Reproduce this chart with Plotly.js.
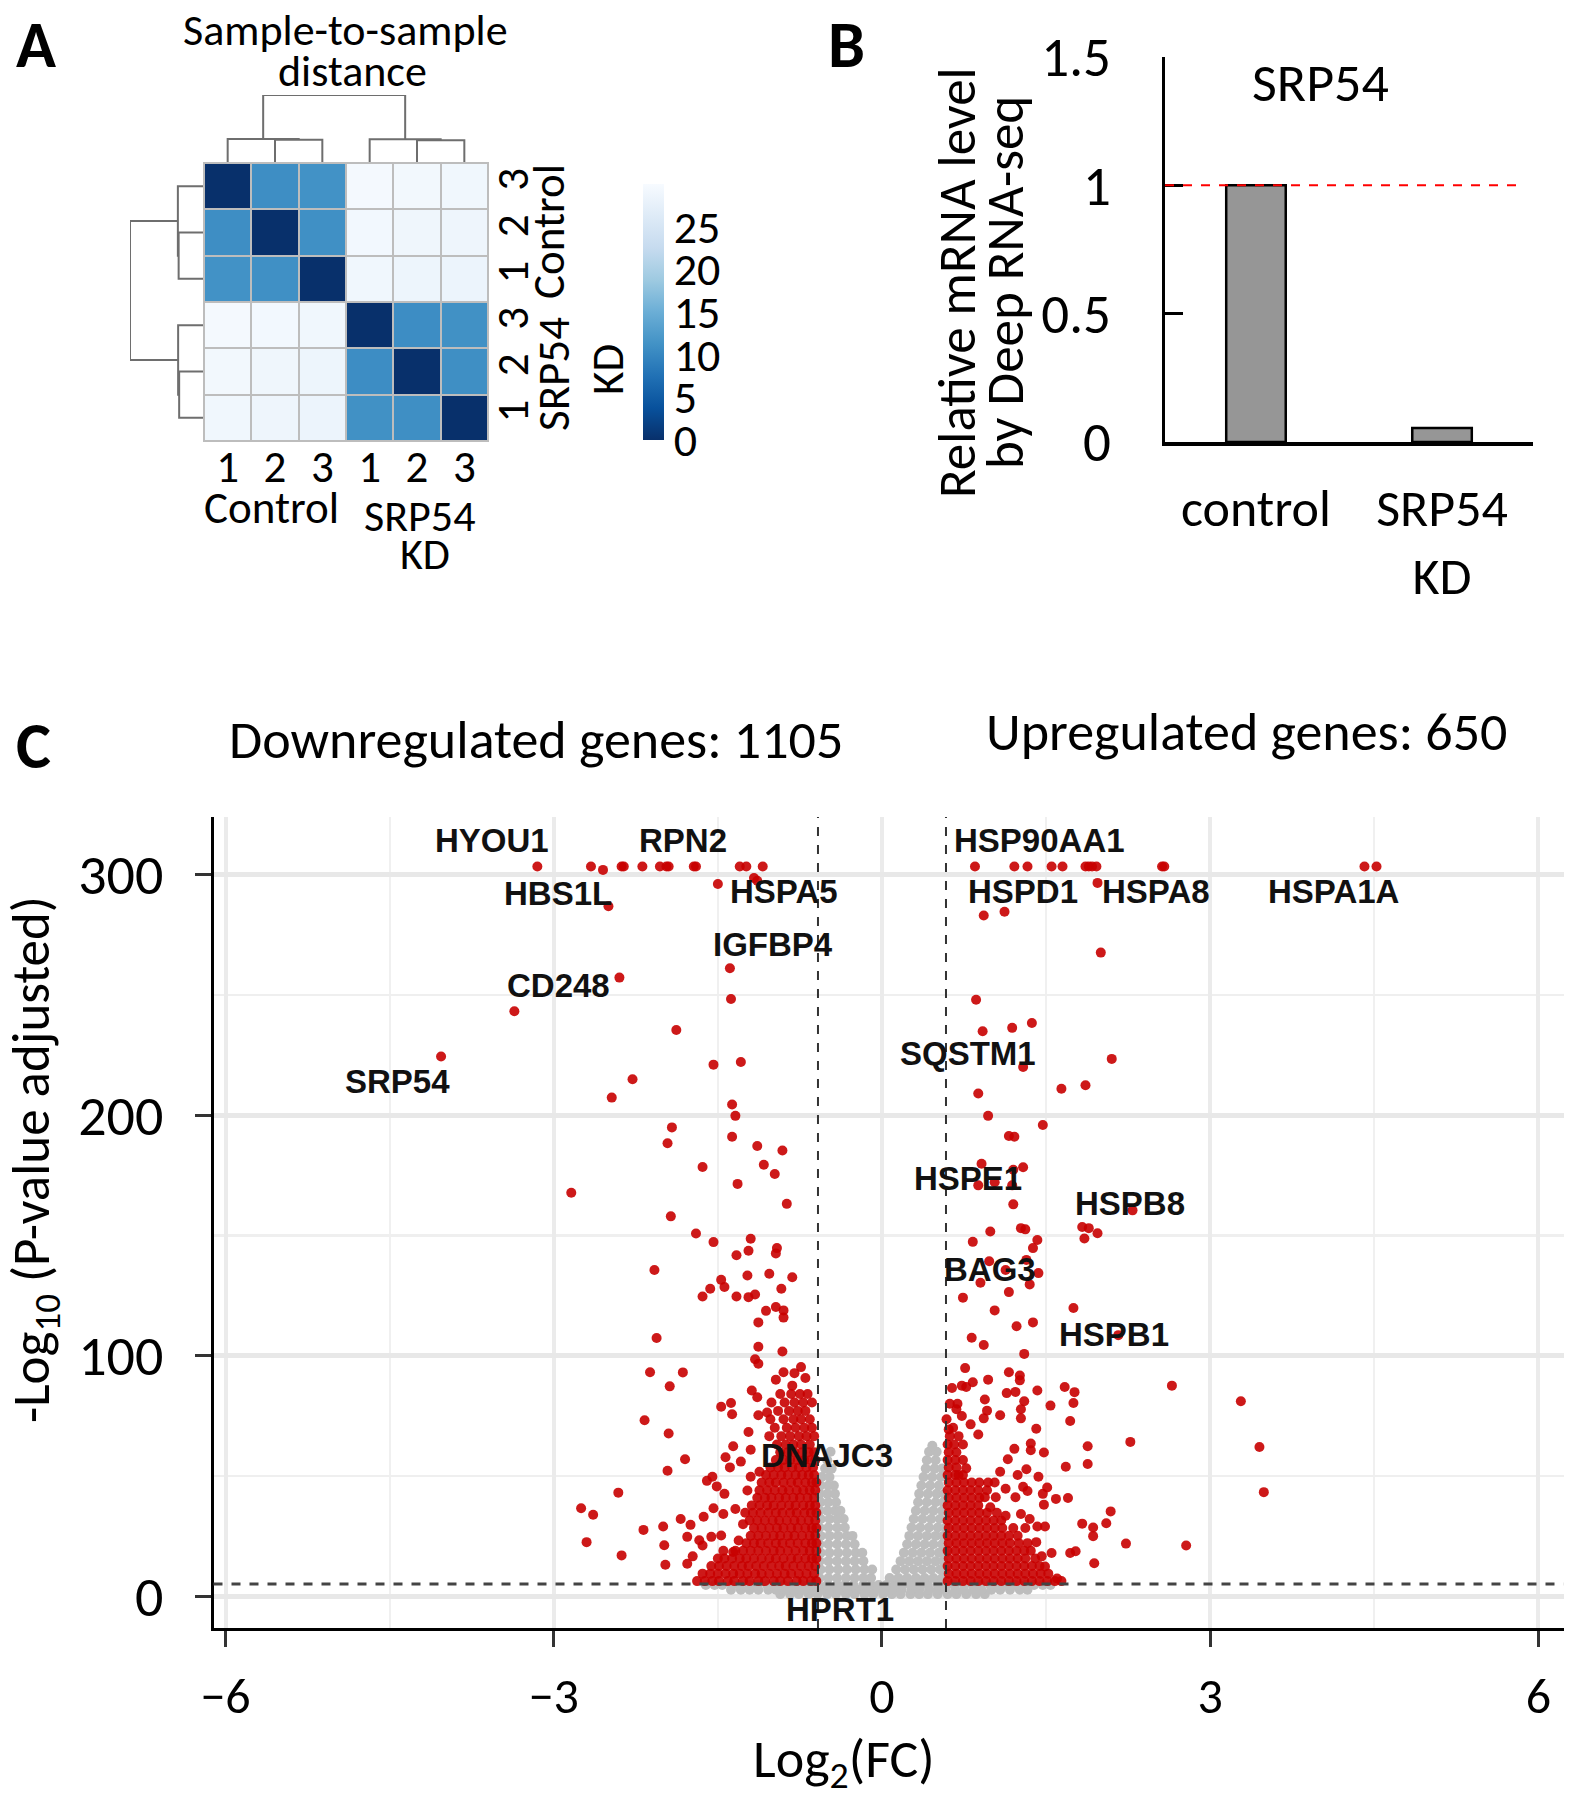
<!DOCTYPE html>
<html><head><meta charset="utf-8">
<script src="https://cdn.plot.ly/plotly-3.0.1.min.js"></script>
<style>html,body{margin:0;padding:0;background:#fff}</style>
</head><body><div id="chart" style="width:1590px;height:1800px"></div>
<script>
// ---------------- Panel A data ----------------
const sampleCols = ['1','2','3','1','2','3'];
const sampleRows = ['3','2','1','3','2','1'];
const distZ = [
  [0, 10.8, 11.2, 29.6, 29.2, 29.0],
  [10.8, 0, 11.0, 29.3, 28.8, 28.6],
  [11.2, 11.0, 0, 29.0, 28.5, 28.4],
  [29.6, 29.3, 29.0, 0, 10.7, 11.1],
  [29.2, 28.8, 28.5, 10.7, 0, 10.9],
  [29.0, 28.6, 28.4, 11.1, 10.9, 0]
];
const colorTicks = [0, 5, 10, 15, 20, 25];
const distMax = 30;
// linkage: [childA, childB, height]; ids >= 6 are earlier merges
const linkage = [[1, 2, 9.8], [0, 6, 10.1], [4, 5, 9.6], [3, 8, 10.0], [7, 9, 28.6]];

// ---------------- Panel B data ----------------
const barGroups = ['control', 'SRP54<br>KD'];
const relLevel = [1.0, 0.055];
const refLevel = 1;
const barTicks = [0, 0.5, 1, 1.5];
const barTickText = ['0', '0.5', '1', '1.5'];

// ---------------- Panel C data ----------------
const downCount = 1105, upCount = 650;
const fcCut = 0.585, padjCut = 5;

const downSparseX = [-3.15,-2.66,-2.55,-2.38,-2.36,-2.19,-2.03,-1.97,-1.95,-1.72,-1.70,-1.30,-1.24,-1.09,-1.17,-1.14,-1.50,-2.50,-1.39,-2.40,-1.38,-3.36,-1.88,-4.03,-1.54,-1.29,-2.28,-2.47,-1.37,-1.34,-1.92,-1.37,
 -1.96,-1.14,-0.91,-1.64,-1.08,-0.98,-2.84,-1.32,-0.87,-1.93,-1.70,-1.54,-1.20,-1.22,-0.96,-0.97,-1.33,-2.08,-1.47,-1.44,-1.57,-1.64,-1.33,-1.23,-1.03,-0.82,-0.92,-1.22,-1.16,-1.06,-0.97,-0.90,-0.90,-1.13,-2.06,-1.13,-0.91,-1.16,-1.13,-2.12,-1.82,-1.94,-0.90,-0.74,-0.80,-0.70,-0.97,-0.82,
 -2.17,-1.95,-1.80,-1.96,-2.41,-2.75,-2.64,-2.70,-2.38,-2.18,-2.00,-1.99,-1.98,-1.84,-1.75,-1.78,-1.67,-1.64,-1.78,-1.73,-1.63,-1.54,-1.45,-1.56,-1.47,-1.60,-1.55,-1.51,-1.44,-1.47,-1.38,-1.37,-1.36,-1.43,-1.39,-1.29,-1.22,-1.19,-1.14,-1.13,-1.05,-1.20,-1.20,-1.12,-1.23,-1.34,-1.36,-1.31,-1.27];
const downSparseY = [303.4,303.4,302.0,303.4,303.4,303.4,303.4,303.4,303.4,303.4,303.4,303.4,303.4,303.4,298.6,297.5,296.1,286.9,261.1,257.2,248.3,243.2,235.4,224.4,221.0,222.1,214.9,207.3,204.4,199.7,194.9,191.0,
 188.3,187.2,185.3,178.4,179.4,175.5,167.7,171.4,163.1,157.9,150.8,147.2,148.6,143.6,144.7,142.5,141.7,135.6,131.5,128.5,127.8,124.6,124.6,133.3,134.0,132.6,127.8,124.3,125.4,118.6,120.2,118.8,115.8,113.8,107.3,103.7,101.7,98.5,96.6,93.1,93.0,87.2,93.1,95.2,92.7,90.7,90.0,87.5,
 73.1,67.6,56.9,52.1,43.0,36.5,33.8,22.4,16.9,27.5,28.9,21.1,13.0,32.0,29.6,24.6,23.2,21.0,13.4,16.5,33.0,36.5,34.1,24.6,25.2,47.9,49.6,45.6,42.5,78.7,80.3,75.6,62.3,57.7,53.5,55.9,68.2,85.5,82.7,75.2,76.3,60.8,49.6,51.7,43.9,36.2,18.3,23.1,29.9];

const upSparseX = [0.85,1.21,1.33,1.55,1.65,1.86,1.89,1.92,1.96,2.56,2.58,4.41,4.52,1.97,0.93,1.12,2.00,0.86,0.92,1.19,1.37,2.10,1.29,0.88,1.64,1.86,0.97,1.47,1.16,1.21,
 0.91,1.29,1.20,0.88,1.03,1.19,1.20,2.29,1.83,1.89,1.97,1.85,0.99,1.27,1.31,0.83,1.42,1.38,0.98,1.32,1.13,1.43,1.35,0.90,1.16,0.74,1.03,1.75,1.38,1.23,2.16,0.82,0.93,1.30,0.76,1.16,1.26,1.26,0.97,0.83,0.73,0.64,1.67,2.65,
 3.28,2.27,3.45,3.49,2.78,2.23,2.09,2.05,1.93,1.93,1.83,1.94,1.88,1.88,1.68,1.70,1.59,1.72,1.75,1.76,1.54,1.41,1.42,1.48,1.36,1.36,1.51,1.47,1.48,1.43,1.49,1.41,1.55,1.46,1.49,1.60,1.72,1.77,1.22,1.14,1.30,1.27,1.27,1.08,0.94,0.96,0.93,0.77,1.21,1.15,1.32,1.24,1.08,1.29,1.33,1.22,1.13,1.04,0.94,0.99,1.13,1.27,1.35,1.42,0.68,0.73,0.81,0.88,0.74,0.77,0.70,0.59,0.61];
const upSparseY = [303.4,303.4,303.4,303.4,303.4,303.4,303.4,303.4,303.4,303.4,303.4,303.4,303.4,296.6,283.0,284.6,267.6,248.0,234.9,236.3,238.3,223.4,220.0,209.0,211.0,212.4,199.7,195.9,191.3,191.0,
 179.8,178.3,177.3,170.8,172.1,170.8,162.9,160.4,153.5,153.0,150.9,148.7,151.6,153.0,152.5,147.3,148.1,144.7,139.2,139.8,135.6,134.3,129.6,130.3,126.4,124.1,118.8,119.8,113.8,112.2,108.5,107.4,104.4,100.7,94.8,93.1,91.7,89.7,90.0,88.9,87.5,86.5,86.9,87.5,
 81.0,64.1,62.0,43.2,21.0,21.8,35.2,30.3,28.5,24.9,30.1,13.6,62.3,54.9,53.8,40.8,40.4,72.8,80.3,84.8,79.2,69.6,85.5,59.7,63.4,60.6,45.1,42.5,38.0,49.6,28.9,22.4,17.9,16.5,12.3,7.3,17.9,18.6,84.9,84.4,81.0,77.7,73.9,75.2,81.7,77.1,73.9,86.9,61.2,56.9,52.7,50.3,51.7,45.4,43.7,41.1,44.6,41.1,41.1,36.9,33.4,34.1,32.0,28.9,77.7,74.9,71.4,67.2,63.0,53.1,50.3,73.5,69.3];

// dense clouds, listed row by row: one y value and the x values read along it
const downDenseY = [6.2,9.3,12.5,15.6,18.8,22.0,25.1,28.3,31.4,34.6,37.7,40.9,44.0,47.2,50.3,53.5,56.6,59.8,63.0,66.5,70.0,73.5,77.0,80.5,84.0];
const downDenseX = [
 [-1.69,-1.62,-1.55,-1.49,-1.41,-1.35,-1.27,-1.21,-1.13,-1.07,-0.99,-0.93,-0.86,-0.78,-0.72,-0.65,-0.60],
 [-1.64,-1.57,-1.50,-1.43,-1.36,-1.30,-1.23,-1.16,-1.10,-1.03,-0.96,-0.89,-0.83,-0.76,-0.69,-0.62],
 [-1.56,-1.49,-1.42,-1.35,-1.28,-1.22,-1.15,-1.08,-1.01,-0.94,-0.88,-0.81,-0.74,-0.67,-0.61],
 [-1.50,-1.44,-1.37,-1.30,-1.24,-1.17,-1.10,-1.03,-0.97,-0.90,-0.83,-0.77,-0.70,-0.64,-0.60],
 [-1.45,-1.34,-1.27,-1.20,-1.13,-1.06,-0.99,-0.93,-0.86,-0.79,-0.72,-0.66,-0.60],
 [-1.24,-1.17,-1.11,-1.04,-0.97,-0.91,-0.84,-0.77,-0.70,-0.64,-0.60],
 [-1.20,-1.13,-1.06,-0.99,-0.93,-0.86,-0.80,-0.73,-0.66,-0.61],
 [-1.17,-1.10,-1.03,-0.96,-0.90,-0.83,-0.77,-0.70,-0.64,-0.60],
 [-1.21,-1.14,-1.07,-1.00,-0.94,-0.87,-0.80,-0.74,-0.67,-0.61],
 [-1.25,-1.18,-1.11,-1.04,-0.97,-0.91,-0.84,-0.78,-0.71,-0.65,-0.60],
 [-1.19,-1.12,-1.05,-0.99,-0.92,-0.85,-0.79,-0.72,-0.66,-0.61],
 [-1.14,-1.07,-1.01,-0.94,-0.88,-0.81,-0.75,-0.68,-0.62],
 [-1.12,-1.05,-0.98,-0.91,-0.85,-0.78,-0.72,-0.66,-0.61],
 [-1.10,-1.03,-0.97,-0.90,-0.83,-0.77,-0.70,-0.64,-0.60],
 [-1.06,-0.99,-0.92,-0.86,-0.79,-0.73,-0.67,-0.62],
 [-1.02,-0.95,-0.89,-0.82,-0.76,-0.69,-0.63],
 [-0.97,-0.90,-0.84,-0.77,-0.71,-0.65,-0.61],
 [-0.93,-0.86,-0.80,-0.73,-0.67,-0.62],
 [-0.96,-0.88,-0.81,-0.74,-0.66],
 [-1.03,-0.92,-0.84,-0.76,-0.69,-0.62],
 [-0.98,-0.87,-0.79,-0.71,-0.64],
 [-1.02,-0.90,-0.81,-0.74,-0.66],
 [-0.95,-0.85,-0.77,-0.70],
 [-1.01,-0.89,-0.80,-0.72,-0.64],
 [-0.93,-0.83,-0.75,-0.68]
];
const upDenseY = [6.2,9.3,12.5,15.6,18.8,22.0,25.1,28.3,31.4,34.6,37.7,40.9,44.0,47.2,50.3,53.5,56.6,59.8,63.0,66.5,70.0,80.0];
const upDenseX = [
 [0.60,0.67,0.74,0.81,0.88,0.95,1.02,1.09,1.16,1.23,1.30,1.37,1.44,1.51,1.58,1.64],
 [0.61,0.68,0.75,0.82,0.89,0.96,1.03,1.10,1.17,1.24,1.31,1.38,1.45,1.52],
 [0.60,0.67,0.74,0.81,0.88,0.95,1.02,1.09,1.16,1.23,1.30,1.37,1.44],
 [0.61,0.68,0.75,0.82,0.89,0.96,1.03,1.10,1.17,1.24,1.31,1.40],
 [0.60,0.67,0.74,0.81,0.88,0.95,1.02,1.09,1.16,1.23,1.30,1.36],
 [0.61,0.68,0.75,0.82,0.89,0.96,1.03,1.10,1.17,1.25,1.33],
 [0.60,0.67,0.74,0.81,0.88,0.95,1.02,1.09,1.16,1.24],
 [0.61,0.68,0.75,0.82,0.89,0.96,1.03,1.10,1.20,1.31],
 [0.60,0.67,0.74,0.81,0.88,0.95,1.02,1.09],
 [0.61,0.68,0.75,0.82,0.89,0.96,1.05],
 [0.60,0.67,0.74,0.81,0.88],
 [0.61,0.68,0.75,0.82,0.89],
 [0.60,0.67,0.74,0.81,0.88,0.96],
 [0.61,0.68,0.75,0.82,0.89,0.97,1.03],
 [0.60,0.67,0.74],
 [0.61,0.68],
 [0.60,0.67,0.74],
 [0.61,0.68],
 [0.60,0.66],
 [0.62,0.70],
 [0.65],
 [0.62,0.69]
];
const nsY = [0.8,2.6,4.6,7.5,11,14.5,18,21.5,25,28.5,32,35.5,39,42.5,46,49.5,53,56.5,60,62.5];
const nsX = [
 [-0.93,-0.84,-0.76,-0.67,-0.59,-0.50,-0.42,-0.33,-0.25,-0.16,-0.08,0.01,0.09,0.17,0.26,0.34,0.42,0.51,0.60,0.68,0.77,0.86,0.94],
 [-1.38,-1.29,-1.21,-1.13,-1.04,-0.97,-0.88,-0.80,-0.71,-0.64,-0.55,-0.47,-0.40,-0.31,-0.23,-0.15,-0.06,0.02,0.10,0.18,0.27,0.34,0.43,0.51,0.58,0.67,0.75,0.84,0.91,1.00,1.08,1.17,1.26,1.33],
 [-1.61,-1.53,-1.46,-1.37,-1.30,-1.21,-1.14,-1.05,-0.98,-0.90,-0.82,-0.73,-0.66,-0.58,-0.50,-0.41,-0.34,-0.26,-0.17,-0.10,-0.03,0.04,0.12,0.19,0.27,0.35,0.42,0.51,0.59,0.66,0.75,0.83,0.90,0.99,1.07,1.15,1.22,1.31,1.39,1.47,1.54],
 [-0.57,-0.49,-0.41,-0.33,-0.25,-0.17,-0.10,0.07,0.15,0.23,0.31,0.39,0.47,0.55],
 [-0.56,-0.48,-0.40,-0.32,-0.24,-0.16,-0.09,0.13,0.21,0.29,0.37,0.45,0.53,0.58],
 [-0.57,-0.49,-0.41,-0.33,-0.25,-0.17,0.17,0.25,0.33,0.41,0.49,0.56],
 [-0.56,-0.48,-0.40,-0.32,-0.24,-0.18,0.20,0.28,0.36,0.44,0.52,0.58],
 [-0.57,-0.49,-0.41,-0.33,-0.25,0.23,0.31,0.39,0.47,0.55],
 [-0.56,-0.48,-0.40,-0.32,-0.27,0.25,0.33,0.41,0.49,0.56],
 [-0.57,-0.49,-0.41,-0.34,0.27,0.35,0.43,0.51,0.58],
 [-0.56,-0.48,-0.41,-0.35,0.29,0.37,0.45,0.53],
 [-0.57,-0.50,-0.43,-0.38,0.31,0.39,0.47,0.55],
 [-0.56,-0.49,-0.42,0.33,0.41,0.49,0.56],
 [-0.57,-0.50,-0.43,0.34,0.42,0.50,0.57],
 [-0.56,-0.49,-0.44,0.36,0.44,0.52],
 [-0.55,-0.48,0.38,0.46,0.54],
 [-0.52,-0.46,0.40,0.48,0.55],
 [-0.50,0.41,0.49],
 [-0.47,0.43,0.50],
 [0.46]
];
const geneNames = ['HYOU1','RPN2','HBS1L','HSPA5','IGFBP4','CD248','SRP54','HSP90AA1','HSPD1','HSPA8','HSPA1A','SQSTM1','HSPE1','HSPB8','BAG3','HSPB1','DNAJC3','HPRT1'];

// ---------------- helpers ----------------
const W = 1590, H = 1800;
const SANS = 'Carlito, Lato, "Open Sans", sans-serif';
const BOLD = '"Liberation Sans", Arial, sans-serif';
function flatRows(ys, xs) {
  const X = [], Y = [];
  ys.forEach((y, i) => xs[i].forEach(x => { X.push(x); Y.push(y); }));
  return {X, Y};
}
function dendro(merges, n) {
  const pos = [], hgt = [];
  for (let i = 0; i < n; i++) { pos.push(i); hgt.push(0); }
  const P = [], Hh = [];
  merges.forEach(([a, b, h]) => {
    P.push(pos[a], pos[a], pos[b], pos[b], null);
    Hh.push(hgt[a], h, h, hgt[b], null);
    pos.push((pos[a] + pos[b]) / 2); hgt.push(h);
  });
  return {P, H: Hh};
}
function txt(px, py, text, size, extra) {
  return Object.assign({xref: 'paper', yref: 'paper', x: px / W, y: 1 - py / H, text: text,
    showarrow: false, xanchor: 'center', yanchor: 'middle',
    font: {family: SANS, size: size, color: '#000'}}, extra || {});
}

// ---------------- traces ----------------
const traces = [];
const dn = dendro(linkage, 6);
const rootH = Math.max(...linkage.map(m => m[2]));
traces.push({type: 'heatmap', z: distZ, xaxis: 'x3', yaxis: 'y3', zmin: 0, zmax: distMax,
  xgap: 2, ygap: 2, hoverinfo: 'skip',
  colorscale: [[0,'#08306B'],[0.125,'#08519C'],[0.25,'#2171B5'],[0.375,'#4292C6'],[0.5,'#6BAED6'],[0.625,'#9ECAE1'],[0.75,'#C6DBEF'],[0.875,'#DEEBF7'],[1,'#F7FBFF']],
  colorbar: {x: 643 / W, xanchor: 'left', y: 1 - 312 / H, yanchor: 'middle', len: 256, lenmode: 'pixels',
    thickness: 21, thicknessmode: 'pixels', outlinewidth: 0, xpad: 0, ypad: 0,
    tickvals: colorTicks, ticks: '', tickfont: {family: SANS, size: 46, color: '#000'}}});
traces.push({type: 'scatter', mode: 'lines', x: dn.P, y: dn.H, xaxis: 'x4', yaxis: 'y4', cliponaxis: false,
  line: {color: '#6e6e6e', width: 2}, hoverinfo: 'skip'});
traces.push({type: 'scatter', mode: 'lines', x: dn.H, y: dn.P, xaxis: 'x5', yaxis: 'y5', cliponaxis: false,
  line: {color: '#6e6e6e', width: 2}, hoverinfo: 'skip'});

traces.push({type: 'bar', x: barGroups, y: relLevel, xaxis: 'x2', yaxis: 'y2', width: 0.32,
  marker: {color: '#969696', line: {color: '#000', width: 2.5}}, hoverinfo: 'skip'});

const ns = flatRows(nsY, nsX);
const dd = flatRows(downDenseY, downDenseX);
const ud = flatRows(upDenseY, upDenseX);
traces.push({type: 'scatter', mode: 'markers', x: ns.X, y: ns.Y, xaxis: 'x', yaxis: 'y',
  marker: {size: 10, color: '#bdbdbd'}, hoverinfo: 'skip'});
const sigX = dd.X.concat(ud.X, downSparseX, upSparseX);
const sigY = dd.Y.concat(ud.Y, downSparseY, upSparseY);
traces.push({type: 'scatter', mode: 'markers', x: sigX, y: sigY, xaxis: 'x', yaxis: 'y',
  marker: {size: 10, color: '#c80000', opacity: 0.9}, hoverinfo: 'skip'});

// ---------------- layout ----------------
const geneLabelPos = [[-3.56,314.3],[-1.82,314.3],[-2.96,292.3],[-0.90,293.1],[-1.00,271.1],[-2.96,253.9],[-4.43,213.9],
  [1.44,314.3],[1.29,293.1],[2.50,293.1],[4.13,293.1],[0.79,225.7],[0.79,173.8],[2.27,163.4],[0.99,135.6],[2.12,108.9],[-0.50,58.6],[-0.38,-5.8]];
const annotations = [
  txt(36, 44, '<b>A</b>', 66), txt(846, 44, '<b>B</b>', 66), txt(33, 745, '<b>C</b>', 66),
  txt(345, 30, 'Sample-to-sample', 44),
  txt(352, 71, 'distance', 44),
  txt(271, 507, 'Control', 45),
  txt(419, 516, 'SRP54', 44),
  txt(425, 554, 'KD', 44),
  txt(549, 232, 'Control', 45, {textangle: -90}),
  txt(553, 374, 'SRP54', 45, {textangle: -90}),
  txt(608, 370, 'KD', 45, {textangle: -90}),
  txt(1320, 83, 'SRP54', 54),
  txt(957, 283, 'Relative mRNA level', 53, {textangle: -90}),
  txt(1005, 283, 'by Deep RNA-seq', 53, {textangle: -90}),
  txt(536, 740, 'Downregulated genes: ' + downCount, 54),
  txt(1246, 732, 'Upregulated genes: ' + upCount, 54),
  txt(34, 1160, '-Log<sub>10</sub> (P-value adjusted)', 53, {textangle: -90}),
  txt(844, 1762, 'Log<sub>2</sub>(FC)', 54)
];
geneNames.forEach((g, i) => annotations.push({xref: 'x', yref: 'y', x: geneLabelPos[i][0], y: geneLabelPos[i][1],
  text: '<b>' + g + '</b>', showarrow: false, xanchor: 'center', yanchor: 'middle',
  font: {family: BOLD, size: 33, color: '#111'}}));

const shapes = [
  {type: 'rect', xref: 'x3 domain', yref: 'y3 domain', x0: 0, x1: 1, y0: 0, y1: 1, layer: 'below',
    fillcolor: '#bdbdbd', line: {width: 0}},
  {type: 'rect', xref: 'x3 domain', yref: 'y3 domain', x0: 0, x1: 1, y0: 0, y1: 1,
    line: {color: '#bdbdbd', width: 2}},
  {type: 'line', xref: 'x2 domain', yref: 'y2', x0: 0, x1: 0.965, y0: refLevel, y1: refLevel,
    line: {color: '#ff0000', width: 2, dash: 'dash'}},
  {type: 'line', xref: 'x', yref: 'y domain', x0: -fcCut, x1: -fcCut, y0: 0, y1: 1, line: {color: '#333', width: 2, dash: 'dash'}},
  {type: 'line', xref: 'x', yref: 'y domain', x0: fcCut, x1: fcCut, y0: 0, y1: 1, line: {color: '#333', width: 2, dash: 'dash'}},
  {type: 'line', xref: 'x domain', yref: 'y', x0: 0, x1: 1, y0: padjCut, y1: padjCut, line: {color: '#444', width: 3, dash: 'dash'}}
];

const layout = {
  width: W, height: H, margin: {l: 0, r: 0, t: 0, b: 0}, showlegend: false,
  paper_bgcolor: '#fff', plot_bgcolor: '#fff', font: {family: SANS, color: '#000'},
  xaxis: {domain: [213.5 / W, 1563.6 / W], range: [-6.11, 6.23], anchor: 'y', tickvals: [-6, -3, 0, 3, 6],
    ticks: 'outside', ticklen: 16, tickwidth: 3, tickcolor: '#333', showline: true, linewidth: 3, linecolor: '#000',
    showgrid: true, gridcolor: '#ebebeb', gridwidth: 4, zeroline: false,
    tickfont: {family: SANS, size: 50, color: '#000'}, ticklabelstandoff: 6,
    minor: {dtick: 1.5, tick0: 0, showgrid: true, gridcolor: '#f0f0f0', gridwidth: 2, ticks: ''}},
  yaxis: {domain: [1 - 1628 / H, 1 - 817 / H], range: [-13.3, 324], anchor: 'x', tickvals: [0, 100, 200, 300],
    ticks: 'outside', ticklen: 16, tickwidth: 3, tickcolor: '#333', showline: true, linewidth: 3, linecolor: '#000',
    showgrid: true, gridcolor: '#e8e8e8', gridwidth: 5, zeroline: false,
    tickfont: {family: SANS, size: 56, color: '#000'}, ticklabelstandoff: 20,
    minor: {dtick: 50, tick0: 0, showgrid: true, gridcolor: '#efefef', gridwidth: 2.5, ticks: ''}},
  xaxis2: {domain: [1165 / W, 1533 / W], range: [-0.489, 1.489], anchor: 'y2', type: 'category',
    showline: true, linewidth: 4, linecolor: '#000', ticks: '', showgrid: false, zeroline: false,
    tickfont: {family: SANS, size: 52, color: '#000'}, ticklabelstandoff: 18},
  yaxis2: {domain: [1 - 442 / H, 1 - 57 / H], range: [0, 1.5], anchor: 'x2', tickvals: barTicks, ticktext: barTickText,
    ticks: 'inside', ticklen: 18, tickwidth: 3, tickcolor: '#000', showline: true, linewidth: 3, linecolor: '#000',
    showgrid: false, zeroline: false, tickfont: {family: SANS, size: 55, color: '#000'}, ticklabelstandoff: 40},
  xaxis3: {domain: [204 / W, 488 / W], range: [-0.5, 5.5], anchor: 'y3', tickvals: [0,1,2,3,4,5], ticktext: sampleCols,
    ticks: '', showgrid: false, zeroline: false, showline: false, tickfont: {family: SANS, size: 45, color: '#000'}, ticklabelstandoff: -5},
  yaxis3: {domain: [1 - 441 / H, 1 - 163 / H], range: [5.5, -0.5], anchor: 'x3', side: 'right', tickvals: [0,1,2,3,4,5],
    ticktext: sampleRows, tickangle: -90, ticks: '', showgrid: false, zeroline: false, showline: false,
    tickfont: {family: SANS, size: 45, color: '#000'}, ticklabelstandoff: -6},
  xaxis4: {domain: [204 / W, 488 / W], range: [-0.5, 5.5], anchor: 'y4', visible: false},
  yaxis4: {domain: [1 - 163 / H, 1 - 95 / H], range: [0, rootH], anchor: 'x4', visible: false},
  xaxis5: {domain: [130 / W, 204 / W], range: [rootH, 0], anchor: 'y5', visible: false},
  yaxis5: {domain: [1 - 441 / H, 1 - 163 / H], range: [5.5, -0.5], anchor: 'x5', visible: false},
  annotations: annotations, shapes: shapes
};
Plotly.newPlot('chart', traces, layout, {staticPlot: true});
</script></body></html>
